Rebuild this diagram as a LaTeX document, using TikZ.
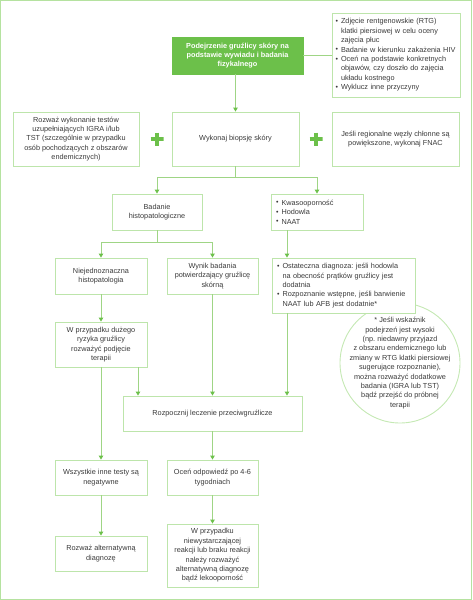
\documentclass[tikz,border=0pt]{standalone}
\usepackage{fontspec}
\setmainfont{Liberation Sans}
\usetikzlibrary{arrows.meta,calc}
\frenchspacing
\definecolor{boxgreen}{HTML}{BDE5AB}
\definecolor{framegreen}{HTML}{B5E2A0}
\definecolor{linegreen}{HTML}{9FD585}
\definecolor{tipgreen}{HTML}{6CC04A}
\definecolor{fillgreen}{HTML}{6CC04A}
\definecolor{txt}{HTML}{3A3A3A}
\definecolor{circgreen}{HTML}{C5E9B4}
\newcommand{\bul}{\makebox[5.5pt][l]{\raisebox{0.4pt}{\scriptsize •}}}
\newcommand{\ind}{\hspace*{5.5pt}}
\begin{document}
\begin{tikzpicture}[x=1pt,y=-1pt,
  every node/.style={font=\fontsize{7.3}{9.4}\selectfont\frenchspacing, text=txt},
  box/.style={draw=boxgreen, line width=0.9pt, fill=white, align=center, inner sep=2pt},
  lbox/.style={box, align=left, inner xsep=5pt},
  topbox/.style={fill=fillgreen, draw=fillgreen, align=center, text=white, font=\fontsize{7.3}{9.4}\selectfont\bfseries, inner sep=2pt},
  ln/.style={draw=linegreen, line width=0.9pt},
  arr/.style={ln, -{Triangle[width=4.5pt,length=4pt,color=tipgreen]}},
  plus/.style={minimum size=13pt, inner sep=0pt, path picture={
     \draw[tipgreen, line width=3.4pt] (path picture bounding box.north) -- (path picture bounding box.south);
     \draw[tipgreen, line width=3.4pt] (path picture bounding box.west) -- (path picture bounding box.east);}},
  note/.style={circle, draw=circgreen, line width=0.9pt, fill=white, minimum size=120pt, inner sep=0pt}
]
\useasboundingbox (0,0) rectangle (472,600);
\draw[framegreen, line width=1.3pt] (0.7,0.7) rectangle (471.3,599.3);

% top row
\node[topbox, minimum width=131pt, minimum height=37pt] (start) at (237.5,55.5)
  {Podejrzenie gruźlicy skóry na\\ podstawie wywiadu i badania\\ fizykalnego};
\node[lbox, inner xsep=3.5pt, text width=121pt, minimum height=84pt] (checks) at (396,55)
  {\bul Zdjęcie rentgenowskie (RTG)\\ \ind klatki piersiowej w celu oceny\\ \ind zajęcia płuc\\
   \bul Badanie w kierunku zakażenia HIV\\
   \bul Oceń na podstawie konkretnych\\ \ind objawów, czy doszło do zajęcia\\ \ind układu kostnego\\
   \bul Wyklucz inne przyczyny};

% second row
\node[box, minimum width=126pt, minimum height=54pt] (igra) at (76,139)
  {Rozważ wykonanie testów\\ uzupełniających IGRA i/lub\\ TST (szczególnie w przypadku\\ osób pochodzących z obszarów\\ endemicznych)};
\node[box, minimum width=127pt, minimum height=54pt] (biopsy) at (235.5,139) {Wykonaj biopsję skóry};
\node[box, minimum width=127pt, minimum height=54pt] (fnac) at (395.5,139)
  {Jeśli regionalne węzły chłonne są\\ powiększone, wykonaj FNAC};
\node[plus] (p1) at (157,139) {};
\node[plus] (p2) at (316,139) {};

% third row
\node[box, minimum width=90pt, minimum height=36pt] (histo) at (157,212) {Badanie\\ histopatologiczne};
\node[lbox, text width=82pt, minimum height=36pt] (micro) at (317,212)
  {\bul Kwasooporność\\ \bul Hodowla\\ \bul NAAT};

% fourth row
\node[box, minimum width=92pt, minimum height=36pt] (ambig) at (101,276) {Niejednoznaczna\\ histopatologia};
\node[box, minimum width=91pt, minimum height=36pt] (confirm) at (212.5,276) {Wynik badania\\ potwierdzający gruźlicę\\ skórną};

\node[note] (circ) at (400,363) {};
\node[align=center] (circtext) at (circ.center)
  {* Jeśli wskaźnik\\ podejrzeń jest wysoki\\ (np. niedawny przyjazd\\ z obszaru endemicznego lub\\ zmiany w RTG klatki piersiowej\\ sugerujące rozpoznanie),\\ można rozważyć dodatkowe\\ badania (IGRA lub TST)\\ bądź przejść do próbnej\\ terapii};

\node[lbox, text width=133pt, minimum height=55pt] (diag) at (343.5,285.5)
  {\bul Ostateczna diagnoza: jeśli hodowla\\ \ind na obecność prątków gruźlicy jest\\ \ind dodatnia\\
   \bul Rozpoznanie wstępne, jeśli barwienie\\ \ind NAAT lub AFB jest dodatnie*};

\node[box, minimum width=92pt, minimum height=45pt] (risk) at (101,344.5)
  {W przypadku dużego\\ ryzyka gruźlicy\\ rozważyć podjęcie\\ terapii};

\node[box, minimum width=179pt, minimum height=35pt] (treat) at (212.5,413.5) {Rozpocznij leczenie przeciwgruźlicze};

\node[box, minimum width=92pt, minimum height=35pt] (neg) at (101,477.5) {Wszystkie inne testy są\\ negatywne};
\node[box, minimum width=91pt, minimum height=35pt] (resp) at (212.5,477.5) {Oceń odpowiedź po 4-6\\ tygodniach};
\node[box, minimum width=92pt, minimum height=35pt] (alt) at (101,553.5) {Rozważ alternatywną\\ diagnozę};
\node[box, minimum width=91pt, minimum height=63pt] (resist) at (212.5,555.5)
  {W przypadku\\ niewystarczającej\\ reakcji lub braku reakcji\\ należy rozważyć\\ alternatywną diagnozę\\ bądź lekooporność};

% helper coordinates
\coordinate (j1) at (235.5,177);
\coordinate (j2) at (157,242);
\coordinate (x287) at (287,0);
\coordinate (x138) at (138,0);

% connectors
\draw[ln] (start.east) -- (checks.west |- start.east);
\draw[arr] (start.south -| biopsy.north) -- (biopsy.north);
\draw[ln] (biopsy.south) -- (j1);
\draw[arr] (j1) -| (histo.north);
\draw[arr] (j1) -| (micro.north);
\draw[ln] (histo.south) -- (j2);
\draw[arr] (j2) -| (ambig.north);
\draw[arr] (j2) -| (confirm.north);
\draw[arr] (micro.south -| x287) -- (diag.north -| x287);
\draw[arr] (ambig.south) -- (risk.north);
\draw[arr] (risk.south -| x138) -- (treat.north -| x138);
\draw[arr] (confirm.south) -- (confirm.south |- treat.north);
\draw[arr] (diag.south -| x287) -- (treat.north -| x287);
\draw[arr] (risk.south) -- (neg.north);
\draw[arr] (treat.south -| resp.north) -- (resp.north);
\draw[arr] (neg.south) -- (alt.north);
\draw[arr] (resp.south) -- (resist.north);
\end{tikzpicture}
\end{document}
